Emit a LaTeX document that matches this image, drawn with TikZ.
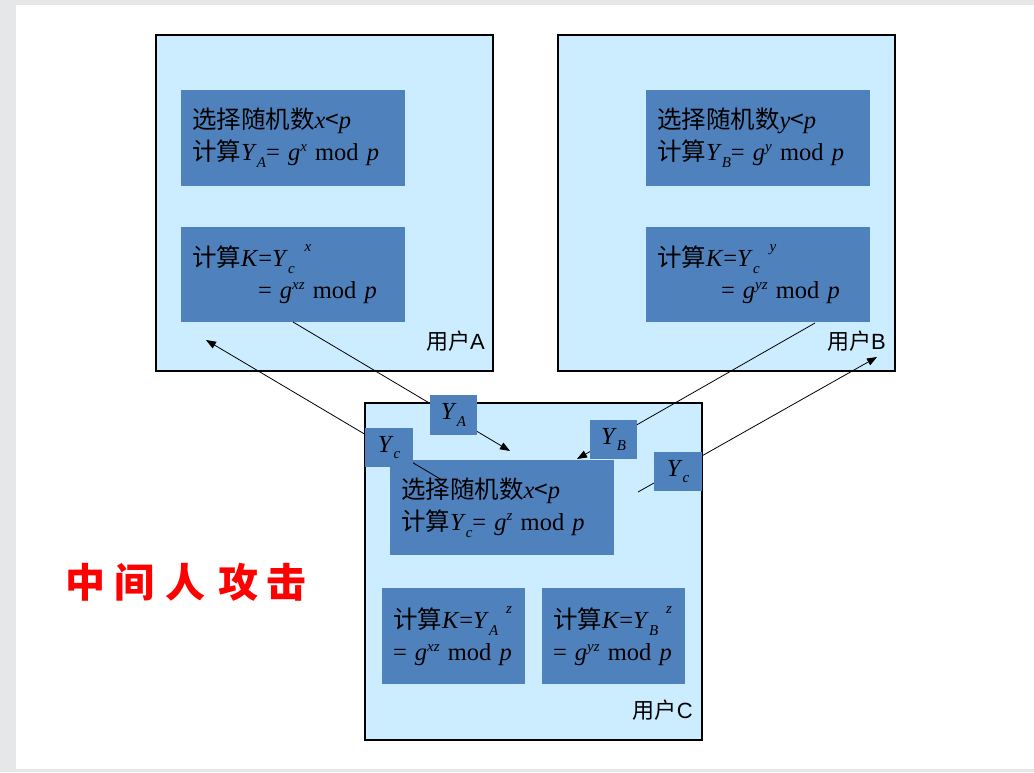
\documentclass[tikz,border=0pt]{standalone}
\usepackage{fontspec}
\setmainfont{Liberation Serif}
\newfontfamily\cjk{Noto Sans CJK SC}
\newfontfamily\arialf{Liberation Sans}
\usetikzlibrary{arrows.meta}
\definecolor{lightbg}{HTML}{CCECFF}
\definecolor{darkbox}{HTML}{4F81BD}
\definecolor{framegray}{HTML}{E6E7E9}
\newcommand\lo[1]{\raisebox{-0.28em}{\fontsize{15}{15}\selectfont\textit{#1}}}
\newcommand\hi[1]{\raisebox{0.38em}{\fontsize{15}{15}\selectfont\textit{#1}}}
\newcommand\hhi[1]{\raisebox{0.62em}{\fontsize{15}{15}\selectfont\textit{#1}}}
\newcommand\zh[1]{{\cjk #1}}
\begin{document}
\begin{tikzpicture}[x=1pt,y=-1pt,
  bigbox/.style={draw=black,line width=1.1pt,fill=lightbg,inner sep=0pt,outer sep=0pt,minimum width=337pt,minimum height=336pt},
  dbox/.style={fill=darkbox,inner xsep=11pt,inner ysep=0pt,outer sep=0pt,align=left,
     font=\fontsize{24.5}{32}\selectfont,text=black},
  ybox/.style={fill=darkbox,inner sep=0pt,outer sep=0pt,minimum width=47pt,minimum height=40pt,
     font=\fontsize{24.5}{28}\selectfont},
  user/.style={anchor=east,inner sep=0pt,font=\fontsize{22}{22}\selectfont},
  conn/.style={line width=0.8pt,-{Triangle[length=10pt,width=7.5pt]}},
  title/.style={text=red,inner sep=0pt,font=\cjk\bfseries\fontsize{40}{40}\selectfont}
]
\useasboundingbox (0,0) rectangle (1034,772);
\fill[framegray] (0,0) rectangle (1034,772);
\fill[white] (16,5) rectangle (1034,769);

% big boxes
\node[bigbox] (A) at (324.5,203) {};
\node[bigbox] (B) at (726.5,203) {};
\node[bigbox,minimum height=337pt] (C) at (533.5,571.5) {};

% user A
\node[dbox,text width=202pt,minimum height=96pt] (a1) at (293,138)
  {\zh{选择随机数}\textit{x}\zh{<}\textit{p}\\\zh{计算}\textit{Y}\lo{A}= \textit{g}\hi{x} mod \textit{p}};
\node[dbox,text width=202pt,minimum height=95pt] (a2) at (293,274.5)
  {\zh{计算}\textit{K}=\textit{Y}\lo{c}\hspace{10pt}\hhi{x}\\\hspace{66pt}= \textit{g}\hi{xz} mod \textit{p}};
\node[user] (uA) at (485,341) {\zh{用户}\arialf A};

% user B
\node[dbox,text width=202pt,minimum height=96pt] (b1) at (758,138)
  {\zh{选择随机数}\textit{y}\zh{<}\textit{p}\\\zh{计算}\textit{Y}\lo{B}= \textit{g}\hi{y} mod \textit{p}};
\node[dbox,text width=202pt,minimum height=95pt] (b2) at (758,274.5)
  {\zh{计算}\textit{K}=\textit{Y}\lo{c}\hspace{10pt}\hhi{y}\\\hspace{64pt}= \textit{g}\hi{yz} mod \textit{p}};
\node[user] (uB) at (886,341) {\zh{用户}\arialf B};

% user C
\node[dbox,text width=202pt,minimum height=95pt] (c1) at (502,507.5)
  {\zh{选择随机数}\textit{x}\zh{<}\textit{p}\\\zh{计算}\textit{Y}\lo{c}= \textit{g}\hi{z} mod \textit{p}};
\node[dbox,text width=121pt,minimum height=96pt] (c2) at (453.5,636)
  {\zh{计算}\textit{K}=\textit{Y}\lo{A}\hspace{8pt}\hhi{z}\\= \textit{g}\hi{xz} mod \textit{p}};
\node[dbox,text width=121pt,minimum height=96pt] (c3) at (613.5,636)
  {\zh{计算}\textit{K}=\textit{Y}\lo{B}\hspace{8pt}\hhi{z}\\= \textit{g}\hi{yz} mod \textit{p}};
\node[user] (uC) at (693,710) {\zh{用户}\arialf C};

% connectors
\coordinate (e1) at (510,451);
\coordinate (s2) at (442,480);
\coordinate (e2) at (206,340);
\coordinate (s3) at (815,323);
\coordinate (e3) at (577,459);
\coordinate (s4) at (638,492);
\coordinate (e4) at (877,357);
\draw[conn] (a2.south) -- (e1);
\draw[conn] (s2) -- (e2);
\draw[conn] (s3) -- (e3);
\draw[conn] (s4) -- (e4);

% transmitted values
\node[ybox] (yA) at (453.5,415) {\textit{Y}\lo{A}};
\node[ybox,minimum width=48pt,minimum height=39pt] (yc1) at (389,447.5) {\textit{Y}\lo{c}};
\node[ybox,minimum height=39pt] (yB) at (613.5,439.5) {\textit{Y}\lo{B}};
\node[ybox,minimum width=48pt,minimum height=39pt] (yc2) at (678,471.5) {\textit{Y}\lo{c}};

% title
\foreach \c/\x [count=\i] in {中/85,间/134,人/185,攻/238,击/286}
  \node[title] (t\i) at (\x,582) {\c};
\end{tikzpicture}
\end{document}
